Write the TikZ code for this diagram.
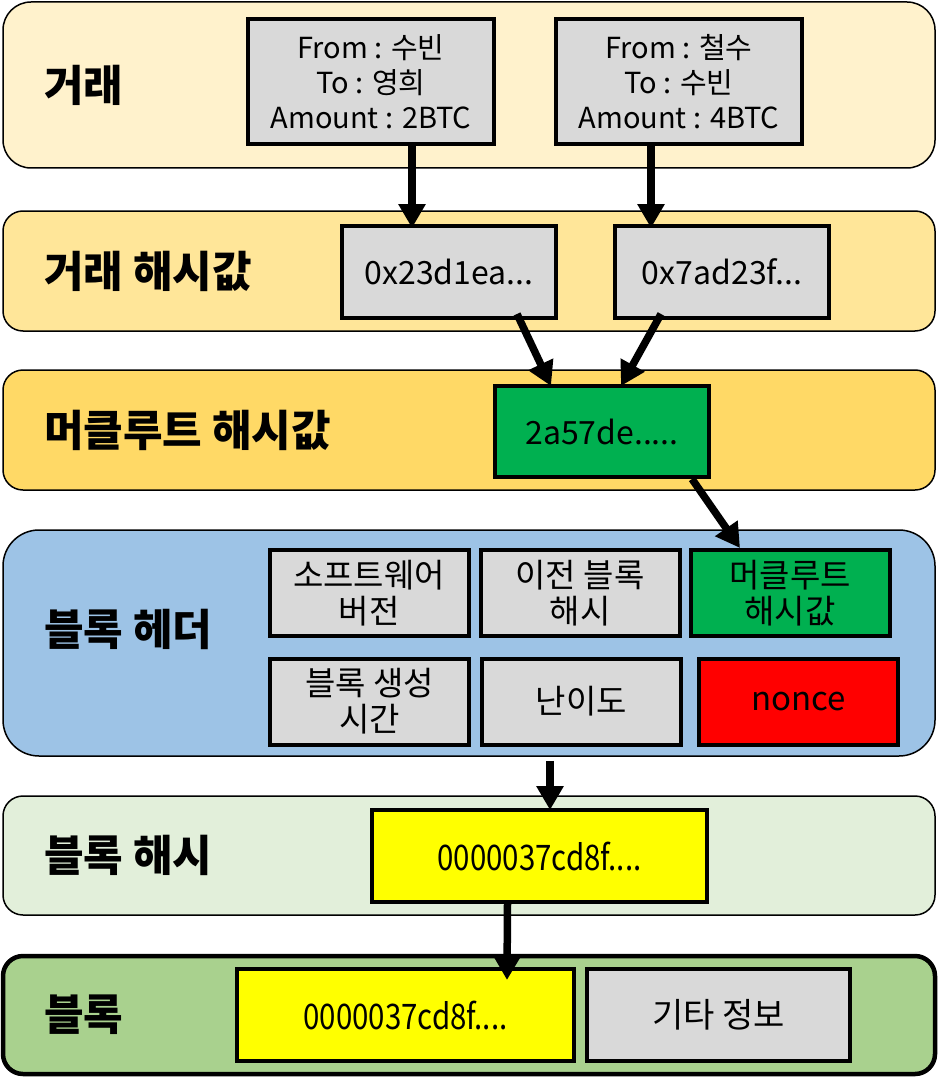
\documentclass[tikz,border=0pt]{standalone}
\usepackage{fontspec}
\setmainfont{Noto Sans CJK KR}
\usetikzlibrary{arrows.meta}
\definecolor{bandtx}{HTML}{FFF2CC}
\definecolor{bandhash}{HTML}{FFE699}
\definecolor{bandroot}{HTML}{FFD966}
\definecolor{bandhead}{HTML}{9DC3E6}
\definecolor{bandbh}{HTML}{E2EFDA}
\definecolor{bandblk}{HTML}{A9D18E}
\definecolor{boxgray}{HTML}{D9D9D9}
\definecolor{boxgreen}{HTML}{00B050}
\definecolor{boxred}{HTML}{FF0000}
\definecolor{boxyellow}{HTML}{FFFF00}

\begin{document}
\begin{tikzpicture}[
    x=1pt, y=-1pt,
    band/.style={draw=black, line width=1.5pt, inner sep=0pt,
                 minimum width=932pt},
    lbl/.style={anchor=west, inner sep=0pt,
                font=\fontsize{43}{48}\selectfont\bfseries},
    box/.style={draw=black, line width=4pt, fill=boxgray, inner sep=0pt,
                align=center, font=\fontsize{32}{36}\selectfont},
    hbox/.style={box, minimum width=199pt, minimum height=86pt,
                 font=\fontsize{33}{36}\selectfont},
    arr/.style={line width=7.5pt, -{Triangle[width=26pt,length=24pt]}},
]

\useasboundingbox (0,0) rectangle (939,1078);

% ================================================================
% BANDS
% ================================================================
\node[band, fill=bandtx,   minimum height=166pt, rounded corners=28pt] (txband)   at (469,85)  {};
\node[band, fill=bandhash, minimum height=120pt, rounded corners=20pt] (hashband) at (469,271) {};
\node[band, fill=bandroot, minimum height=120pt, rounded corners=20pt] (rootband) at (469,430) {};
\node[band, fill=bandhead, minimum height=226pt, rounded corners=36pt] (headband) at (469,643) {};
\node[band, fill=bandbh,   minimum height=119pt, rounded corners=20pt] (bhband)   at (469,855.5) {};
\node[band, fill=bandblk,  minimum height=118pt, rounded corners=20pt,
      line width=4.5pt] (blkband) at (469,1015) {};

% labels
\node[lbl] (txlbl)   at (44,85)    {거래};
\node[lbl] (hashlbl) at (44,271)   {거래 해시값};
\node[lbl] (rootlbl) at (44,430)   {머클루트 해시값};
\node[lbl] (headlbl) at (44,629)   {블록 헤더};
\node[lbl] (bhlbl)   at (44,855.5) {블록 해시};
\node[lbl] (blklbl)  at (44,1015)  {블록};

% ================================================================
% TRANSACTIONS
% ================================================================
\node[box, minimum width=246pt, minimum height=125pt, font=\fontsize{29}{35}\selectfont]
  (tx1) at (371,81.5) {From : 수빈\\To : 영희\\Amount : 2BTC};
\node[box, minimum width=246pt, minimum height=125pt, font=\fontsize{29}{35}\selectfont]
  (tx2) at (679,81.5) {From : 철수\\To : 수빈\\Amount : 4BTC};

% transaction hashes
\node[box, minimum width=214pt, minimum height=92pt] (h1) at (449,272) {0x23d1ea...};
\node[box, minimum width=214pt, minimum height=92pt] (h2) at (722,272) {0x7ad23f...};

% merkle root
\node[box, fill=boxgreen, minimum width=214pt, minimum height=91pt]
  (root) at (602,431.5) {2a57de.....};

% ================================================================
% BLOCK HEADER
% ================================================================
\node[hbox] (sw)    at (369,593)   {소프트웨어\\버전};
\node[hbox] (prev)  at (580,593)   {이전 블록\\해시};
\node[hbox, fill=boxgreen] (hroot) at (790,593) {머클루트\\해시값};
\node[hbox] (time)  at (369.5,701.5) {블록 생성\\시간};
\node[hbox] (diff)  at (581.5,701.5) {난이도};
\node[hbox, fill=boxred] (nonce) at (798.5,702) {nonce};

% block hash / block
\node[box, fill=boxyellow, minimum width=335pt, minimum height=92pt]
  (bh) at (539.5,856) {\scalebox{0.92}[1.1]{0000037cd8f....}};
\node[box, fill=boxyellow, minimum width=337pt, minimum height=92pt]
  (blkhash) at (405.5,1015) {\scalebox{0.92}[1.1]{0000037cd8f....}};
\node[box, minimum width=263pt, minimum height=92pt, font=\fontsize{34}{36}\selectfont]
  (etc) at (718.5,1015) {기타 정보};

% ================================================================
% ARROWS
% ================================================================
\draw[arr] ([xshift=41pt]tx1.south) -- ([xshift=-37pt,yshift=-4pt]h1.north);
\draw[arr] ([xshift=-28pt]tx2.south) -- ([xshift=-71pt,yshift=-4pt]h2.north);
\draw[arr] ([xshift=-41pt,yshift=6pt]h1.south east) -- ([xshift=-51pt,yshift=-2pt]root.north);
\draw[arr] ([xshift=-61pt,yshift=6pt]h2.south) -- ([xshift=19pt,yshift=-2pt]root.north);
\draw[arr] ([xshift=-19pt]root.south east) -- ([xshift=-50pt]hroot.north);
\draw[arr] ([xshift=81pt,yshift=-4pt]headband.south) -- ([xshift=10.5pt,yshift=-2pt]bh.north);
\draw[arr] ([xshift=-32pt]bh.south) -- ([xshift=101.5pt,yshift=-13pt]blkhash.north);

\end{tikzpicture}
\end{document}
